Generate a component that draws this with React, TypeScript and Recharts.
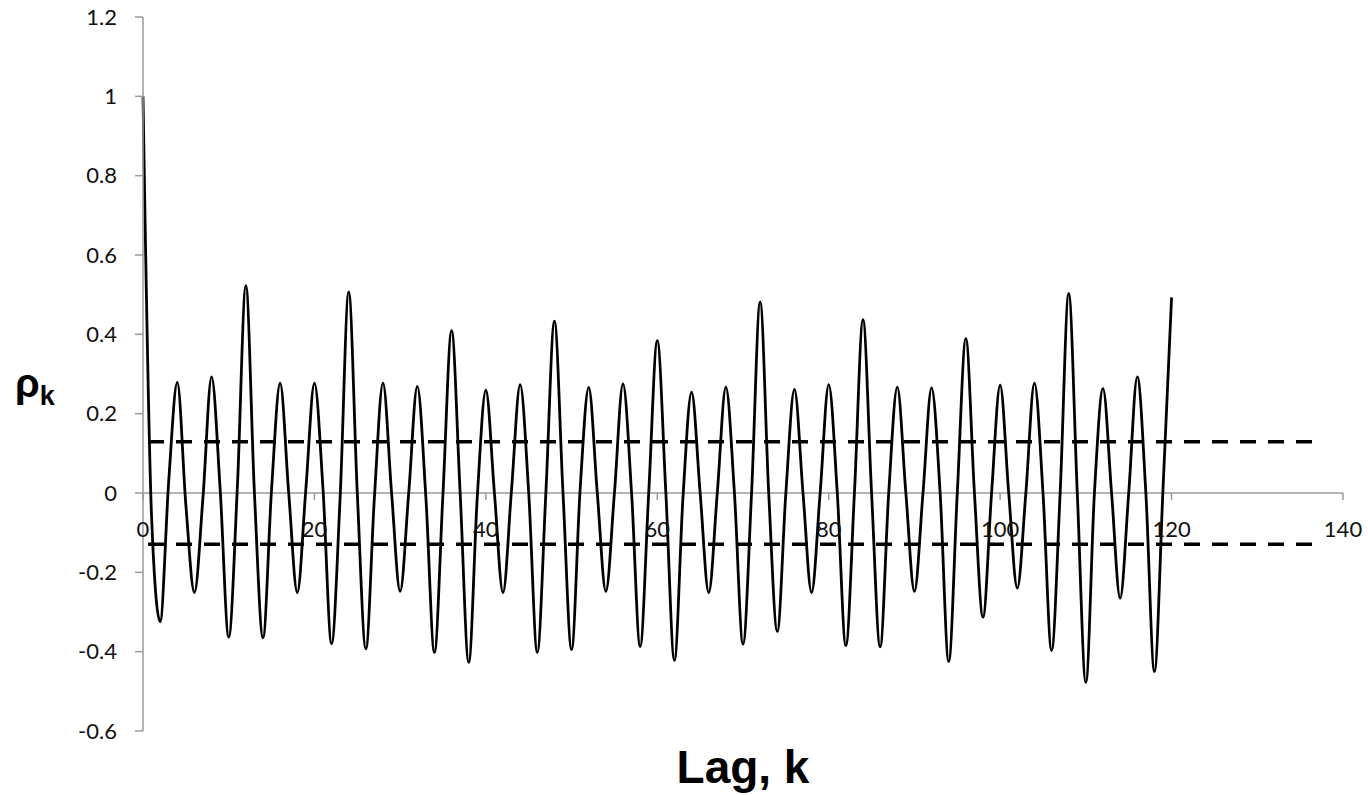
import React from 'react';
import { LineChart, Line, XAxis, YAxis, ReferenceLine, Label } from 'recharts';

// autocorrelation rho_k for lags 0..120 (index = lag)
const rhoValues = [
  1, -0.06, -0.324, 0.03, 0.279, -0.03, -0.251, -0.01, 0.293, 0.01,
  -0.363, 0.01, 0.523, 0.0, -0.365, 0.01, 0.277, 0.0, -0.251, 0.01,
  0.277, 0.01, -0.38, -0.01, 0.507, 0.0, -0.393, -0.01, 0.277, 0.0,
  -0.248, 0.0, 0.269, -0.01, -0.402, 0.0, 0.409, 0.0, -0.427, -0.01,
  0.259, 0.0, -0.251, 0.01, 0.273, 0.0, -0.402, 0.0, 0.433, 0.0,
  -0.395, 0.01, 0.266, 0.0, -0.248, 0.0, 0.275, 0.0, -0.387, 0.0,
  0.384, 0.0, -0.422, -0.01, 0.254, 0.0, -0.251, 0.0, 0.267, 0.0,
  -0.381, 0.0, 0.482, 0.0, -0.349, 0.0, 0.261, 0.0, -0.251, 0.0,
  0.273, 0.0, -0.385, 0.0, 0.437, 0.0, -0.388, 0.0, 0.267, 0.0,
  -0.248, 0.0, 0.265, 0.0, -0.425, 0.0, 0.389, 0.0, -0.313, 0.0,
  0.272, 0.0, -0.24, 0.0, 0.277, 0.0, -0.397, 0.0, 0.503, 0.0,
  -0.478, 0.0, 0.263, 0.0, -0.265, 0.0, 0.293, 0.0, -0.45, 0.01,
  0.493,
];

// significance bounds (dashed)
const boundLags = [0, 137];
const upperBound = 0.129;
const lowerBound = -0.129;

const xTicks = [0, 20, 40, 60, 80, 100, 120, 140];
const yTicks = [-0.6, -0.4, -0.2, 0, 0.2, 0.4, 0.6, 0.8, 1, 1.2];

const mainData = rhoValues.map((rho, lag) => ({ lag, rho }));
const upperData = boundLags.map((lag) => ({ lag, v: upperBound }));
const lowerData = boundLags.map((lag) => ({ lag, v: lowerBound }));

const W = 1368;
const H = 795;
const X_AXIS_H = 4;
const MARGIN = { top: 17, right: 25, bottom: 64 - X_AXIS_H, left: 83 };
const Y_AXIS_W = 60;
const Y_MIN = -0.6;
const Y_MAX = 1.2;
const PLOT_H = H - MARGIN.top - MARGIN.bottom - X_AXIS_H;
const PLOT_W = W - MARGIN.left - MARGIN.right - Y_AXIS_W;
const ZERO_Y = MARGIN.top + (PLOT_H * Y_MAX) / (Y_MAX - Y_MIN);

const AXIS_COLOR = '#9a9a9a';
const TICK_FONT = 'Lato, "Open Sans", sans-serif';
const TITLE_FONT = '"Liberation Sans", Arial, sans-serif';

// x axis crosses at y = 0, so ticks are drawn on the zero line
function ZeroTick(props: any) {
  const { x, payload } = props;
  return (
    <g>
      <line x1={x} x2={x} y1={ZERO_Y} y2={ZERO_Y + 7} stroke={AXIS_COLOR} strokeWidth={1.5} />
      <text x={x} y={ZERO_Y + 44} textAnchor="middle" fontFamily={TICK_FONT} fontSize={22} fill="#111">
        {payload.value}
      </text>
    </g>
  );
}

export default function App() {
  return (
    <div style={{ position: 'absolute', left: 0, top: 0, width: W, height: H, background: '#fff' }}>
      <LineChart width={W} height={H} margin={MARGIN}>
        <XAxis
          dataKey="lag"
          type="number"
          domain={[0, 140]}
          ticks={xTicks}
          interval={0}
          height={X_AXIS_H}
          axisLine={false}
          tickLine={false}
          tick={<ZeroTick />}
        >
          <Label
            content={() => (
              <text
                x={MARGIN.left + Y_AXIS_W + PLOT_W / 2}
                y={783}
                textAnchor="middle"
                fontFamily={TITLE_FONT}
                fontWeight="bold"
                fontSize={46}
                fill="#000"
              >
                Lag, k
              </text>
            )}
          />
        </XAxis>
        <YAxis
          width={Y_AXIS_W}
          domain={[Y_MIN, Y_MAX]}
          ticks={yTicks}
          interval={0}
          tickSize={8}
          tickMargin={18}
          axisLine={{ stroke: AXIS_COLOR, strokeWidth: 1.5 }}
          tickLine={{ stroke: AXIS_COLOR, strokeWidth: 1.5 }}
          tick={{ fontFamily: TICK_FONT, fontSize: 22, fill: '#111' }}
          tickFormatter={(v: number) => String(v)}
        >
          <Label
            content={() => (
              <text x={15} y={397} fontFamily={TITLE_FONT} fontWeight="bold" fill="#000">
                <tspan fontSize={40}>ρ</tspan>
                <tspan fontSize={27} dy={8}>k</tspan>
              </text>
            )}
          />
        </YAxis>
        <ReferenceLine y={0} stroke={AXIS_COLOR} strokeWidth={1.5} />
        <Line
          data={upperData}
          dataKey="v"
          type="linear"
          stroke="#000"
          strokeWidth={3.5}
          strokeDasharray="16 12"
          strokeDashoffset={23}
          dot={false}
          isAnimationActive={false}
        />
        <Line
          data={lowerData}
          dataKey="v"
          type="linear"
          stroke="#000"
          strokeWidth={3.5}
          strokeDasharray="16 12"
          strokeDashoffset={23}
          dot={false}
          isAnimationActive={false}
        />
        <Line
          data={mainData}
          dataKey="rho"
          type="monotone"
          stroke="#000"
          strokeWidth={2.8}
          dot={false}
          isAnimationActive={false}
        />
      </LineChart>
    </div>
  );
}
